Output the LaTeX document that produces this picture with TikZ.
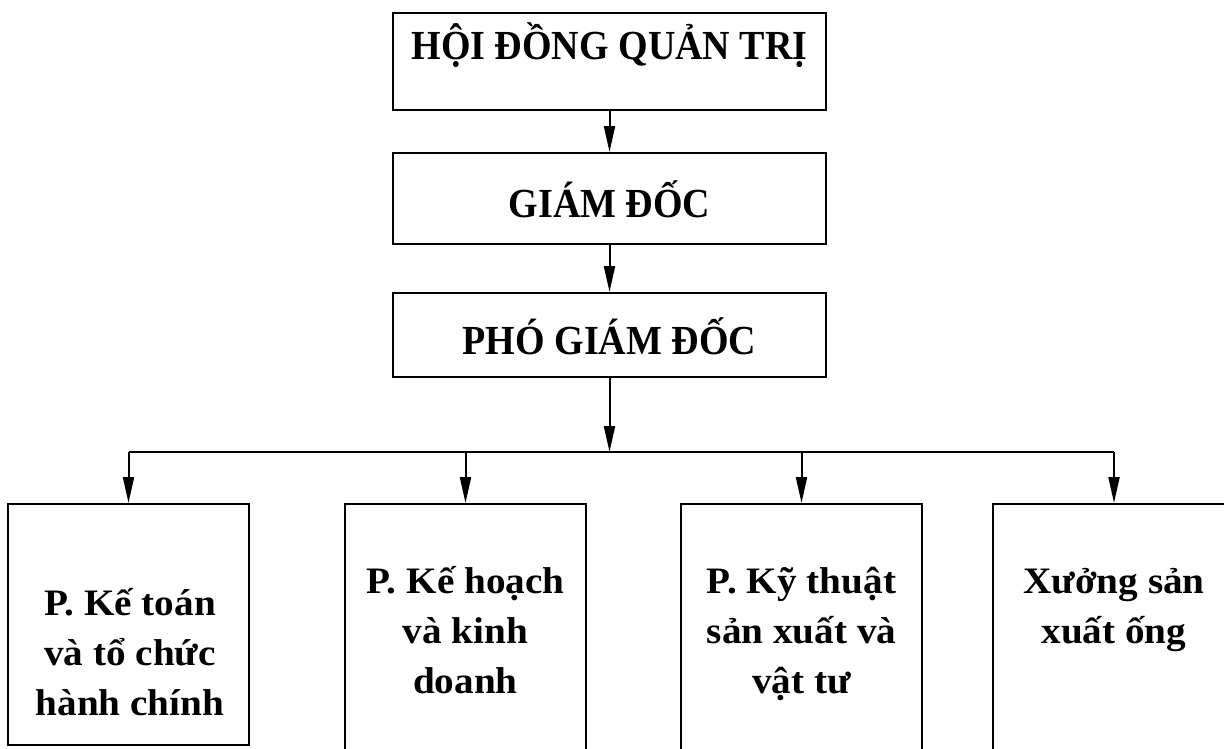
\documentclass[tikz,border=0pt]{standalone}
\usepackage{fontspec}
\setmainfont{Liberation Serif}
\newfontfamily\topfont[FakeStretch=0.92]{Liberation Serif}
\newfontfamily\botfont[FakeStretch=1.05]{Liberation Serif}
\usetikzlibrary{arrows.meta,fit}
\begin{document}
\begin{tikzpicture}[x=0.75pt,y=-0.75pt,
  box/.style={draw, line width=1.5pt, inner sep=0pt, rectangle},
  conn/.style={line width=1.5pt},
  arr/.style={conn, -{Triangle[length=19.5pt,width=8.25pt]}},
  ttext/.style={anchor=base, inner sep=0pt, font=\topfont\bfseries\fontsize{31pt}{36pt}\selectfont},
  btext/.style={anchor=base, inner sep=0pt, font=\botfont\bfseries\fontsize{28pt}{37.5pt}\selectfont}]
\clip (0,0) rectangle (1224,749);
% corners
\coordinate (t1a) at (393,13);  \coordinate (t1b) at (826,110);
\coordinate (t2a) at (393,153); \coordinate (t2b) at (826,244);
\coordinate (t3a) at (393,293); \coordinate (t3b) at (826,377);
\coordinate (aa) at (8,504);    \coordinate (ab) at (249,745);
\coordinate (ba) at (345,504);  \coordinate (bb) at (586,800);
\coordinate (ca) at (681,504);  \coordinate (cb) at (922,800);
\coordinate (da) at (993,504);  \coordinate (db) at (1235,800);
% boxes
\node[box, fit=(t1a)(t1b)] (hdqt) {};
\node[box, fit=(t2a)(t2b)] (gd) {};
\node[box, fit=(t3a)(t3b)] (pgd) {};
\node[box, fit=(aa)(ab)] (pA) {};
\node[box, fit=(ba)(bb)] (pB) {};
\node[box, fit=(ca)(cb)] (pC) {};
\node[box, fit=(da)(db)] (pD) {};
% texts
\node[ttext] (l1) at (609.5,60) {HỘI ĐỒNG QUẢN TRỊ};
\node[ttext] (l2) at (609.5,217) {GIÁM ĐỐC};
\node[ttext] (l3) at (609.5,354) {PHÓ GIÁM ĐỐC};
\node[btext] (a1) at (130,615) {P. Kế toán};
\node[btext] (a2) at (130,665) {và tổ chức};
\node[btext] (a3) at (130,715) {hành chính};
\node[btext] (b1) at (465.5,593) {P. Kế hoạch};
\node[btext] (b2) at (465.5,643) {và kinh};
\node[btext] (b3) at (465.5,693) {doanh};
\node[btext] (c1) at (801.5,593) {P. Kỹ thuật};
\node[btext] (c2) at (801.5,643) {sản xuất và};
\node[btext] (c3) at (801.5,693) {vật tư};
\node[btext] (d1) at (1114,593) {Xưởng sản};
\node[btext] (d2) at (1114,643) {xuất ống};
% connectors
\coordinate (bus) at (609.5,452);
\draw[arr] (hdqt.south) -- (gd.north);
\draw[arr] (gd.south) -- (pgd.north);
\draw[arr] (pgd.south) -- (bus);
\draw[conn] (pA.north |- bus) -- (pD.north |- bus);
\draw[arr] (pA.north |- bus) -- (pA.north);
\draw[arr] (pB.north |- bus) -- (pB.north);
\draw[arr] (pC.north |- bus) -- (pC.north);
\draw[arr] (pD.north |- bus) -- (pD.north);
\end{tikzpicture}
\end{document}
